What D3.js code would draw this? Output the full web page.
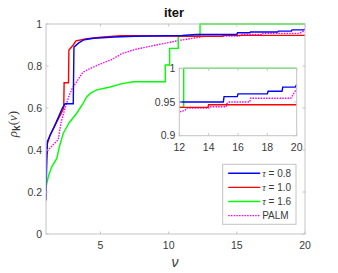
<!DOCTYPE html>
<html lang="en">
  <head>
    <meta charset="UTF-8" />
    <title>iter</title>
    <style>
      body { margin: 0; background: #fff; }
      text { font-family: "Liberation Sans", Arial, sans-serif; }
    </style>
  </head>
  <body>
    <svg id="svg" width="338" height="273"></svg>

    <script src="https://cdn.jsdelivr.net/npm/d3@7"></script>
    <script>
      // performance profile points [nu, rho]
      const tau08 = [[1,0.16],[1.04,0.3],[1.1,0.44],[1.3,0.47],[1.6,0.51],[1.8,0.54],[2.0,0.57],[2.2,0.6],[2.4,0.62],[3.0,0.62],[3.05,0.89],[3.4,0.91],[3.8,0.925],[4.5,0.932],[6,0.938],[7.5,0.942],[11,0.945],[12,0.95],[15,0.95],[15.05,0.958],[15.95,0.958],[16,0.962],[18,0.962],[18.05,0.966],[19,0.966],[19.05,0.972],[19.9,0.972],[20,0.976]];
      const tau10 = [[1,0.33],[1.05,0.38],[1.1,0.43],[1.3,0.47],[1.6,0.51],[2.0,0.56],[2.3,0.6],[2.33,0.72],[2.65,0.72],[2.68,0.876],[3.0,0.9],[3.2,0.92],[4,0.93],[5,0.937],[6.5,0.944],[7.5,0.944],[12,0.942],[13.95,0.942],[14,0.946],[20,0.946]];
      const tau16 = [[1,0.225],[1.2,0.28],[1.42,0.32],[1.79,0.36],[2.0,0.42],[2.27,0.48],[2.7,0.53],[3.25,0.575],[3.7,0.62],[3.99,0.654],[4.3,0.672],[4.72,0.686],[5.7,0.7],[6.5,0.715],[7.4,0.725],[9.75,0.725],[9.75,0.805],[10.07,0.805],[10.07,0.884],[10.7,0.884],[10.7,0.942],[12.3,0.942],[12.3,1],[20,1]];
      const palm = [[1,0.37],[1.15,0.4],[1.9,0.45],[2.1,0.53],[2.4,0.6],[2.7,0.66],[2.9,0.69],[3.3,0.73],[3.7,0.77],[4.3,0.79],[5.0,0.81],[5.8,0.83],[6.6,0.86],[7.6,0.88],[9.1,0.9],[10.1,0.913],[10.8,0.922],[11.6,0.93],[12,0.935],[12.4,0.938],[12.5,0.941],[14,0.941],[14.05,0.943],[15.2,0.943],[15.25,0.948],[15.4,0.95],[16.8,0.95],[16.85,0.9555],[19.6,0.9555],[20,0.97]];

      const seriesNames = ["\u03c4 = 0.8", "\u03c4 = 1.0", "\u03c4 = 1.6", "PALM"];
      const seriesColors = ["#0000ff", "#ff0000", "#00ff00", "#ff00ff"];
      const seriesData = [tau08, tau10, tau16, palm];

      const xTicks = [5, 10, 15, 20];
      const yTicks = [0, 0.2, 0.4, 0.6, 0.8, 1];
      const insetXTicks = [12, 14, 16, 18, 20];
      const insetYTicks = [0.9, 0.95, 1];

      const MAIN = { left: 46, right: 305, top: 24, bottom: 234 };
      const INSET = { left: 179.3, right: 296.7, top: 68.3, bottom: 135.7 };
      const AXIS_COLOR = "#c4c4c4";
      const LABEL_COLOR = "#3a3a3a";

      const svg = d3.select("#svg");
      svg.append("rect").attr("width", 338).attr("height", 273).attr("fill", "#fff");

      function drawAxes(box, xDomain, yDomain, xt, yt, fmtY, name) {
        const x = d3.scaleLinear().domain(xDomain).range([box.left, box.right]);
        const y = d3.scaleLinear().domain(yDomain).range([box.bottom, box.top]);
        const g = svg.append("g");
        g.append("rect")
          .attr("x", box.left).attr("y", box.top)
          .attr("width", box.right - box.left).attr("height", box.bottom - box.top)
          .attr("fill", "#fff");

        svg.append("clipPath").attr("id", "clip-" + name)
          .append("rect")
          .attr("x", box.left).attr("y", box.top - 1)
          .attr("width", box.right - box.left).attr("height", box.bottom - box.top + 2);

        const lines = g.append("g").attr("clip-path", `url(#clip-${name})`);
        const line = d3.line().x((d) => x(d[0])).y((d) => y(d[1]));
        // PALM below the others
        [3, 2, 1, 0].forEach((i) => {
          lines.append("path")
            .attr("d", line(seriesData[i]))
            .attr("fill", "none")
            .attr("stroke", seriesColors[i])
            .attr("stroke-width", 1.4)
            .attr("stroke-dasharray", i === 3 ? "1.5,1.2" : null);
        });

        const frame = g.append("g").attr("stroke", AXIS_COLOR).attr("stroke-width", 1).attr("fill", "none");
        frame.append("rect")
          .attr("x", box.left).attr("y", box.top)
          .attr("width", box.right - box.left).attr("height", box.bottom - box.top);
        xt.forEach((t) => {
          frame.append("line").attr("x1", x(t)).attr("x2", x(t)).attr("y1", box.bottom).attr("y2", box.bottom - 2.5);
          frame.append("line").attr("x1", x(t)).attr("x2", x(t)).attr("y1", box.top).attr("y2", box.top + 2.5);
        });
        yt.forEach((t) => {
          frame.append("line").attr("x1", box.left).attr("x2", box.left + 2.5).attr("y1", y(t)).attr("y2", y(t));
          frame.append("line").attr("x1", box.right).attr("x2", box.right - 2.5).attr("y1", y(t)).attr("y2", y(t));
        });

        g.selectAll(".xl").data(xt).enter().append("text")
          .attr("x", (d) => x(d)).attr("y", box.bottom + 15)
          .attr("text-anchor", "middle").attr("font-size", 10.5).attr("fill", LABEL_COLOR)
          .text((d) => d);
        g.selectAll(".yl").data(yt).enter().append("text")
          .attr("x", box.left - 4).attr("y", (d) => y(d) + 3.5)
          .attr("text-anchor", "end").attr("font-size", 10.5).attr("fill", LABEL_COLOR)
          .text(fmtY);
      }

      drawAxes(MAIN, [1, 20], [0, 1], xTicks, yTicks, (d) => d3.format("~g")(d), "main");
      drawAxes(INSET, [12, 20], [0.9, 1], insetXTicks, insetYTicks, (d) => d3.format("~g")(d), "inset");

      // title
      svg.append("text").attr("x", 174).attr("y", 17)
        .attr("text-anchor", "middle").attr("font-size", 13).attr("font-weight", "bold")
        .attr("fill", "#111").text("iter");

      // axis labels
      svg.append("text").attr("x", 175).attr("y", 267)
        .attr("text-anchor", "middle").attr("font-size", 14)
        .attr("font-family", "'Liberation Serif', serif").attr("font-style", "italic")
        .attr("fill", LABEL_COLOR).text("\u03bd");

      const yl = svg.append("text")
        .attr("transform", "translate(17,124) rotate(-90)")
        .attr("text-anchor", "middle").attr("font-size", 13).attr("fill", LABEL_COLOR);
      yl.append("tspan").attr("font-family", "'Liberation Serif', serif").attr("font-style", "italic").text("\u03c1");
      yl.append("tspan").attr("font-weight", "bold").attr("font-size", 10).attr("dy", 3).text("k");
      yl.append("tspan").attr("font-family", "'Liberation Serif', serif").attr("dy", -3).text("(");
      yl.append("tspan").attr("font-family", "'Liberation Serif', serif").attr("font-style", "italic").text("\u03bd");
      yl.append("tspan").attr("font-family", "'Liberation Serif', serif").text(")");

      // legend
      const LEG = { left: 222.7, top: 164.3, width: 73.3, height: 60, row: 14.1 };
      const legend = svg.append("g");
      legend.append("rect")
        .attr("x", LEG.left).attr("y", LEG.top).attr("width", LEG.width).attr("height", LEG.height)
        .attr("fill", "#fff").attr("stroke", AXIS_COLOR);
      seriesNames.forEach((name, i) => {
        const yy = LEG.top + 9 + i * LEG.row;
        legend.append("line")
          .attr("x1", LEG.left + 5.5).attr("x2", LEG.left + 37.5).attr("y1", yy).attr("y2", yy)
          .attr("stroke", seriesColors[i]).attr("stroke-width", 1.4)
          .attr("stroke-dasharray", i === 3 ? "1.5,1.2" : null);
        const t = legend.append("text")
          .attr("x", LEG.left + 39.5).attr("y", yy + 3.5)
          .attr("font-size", 10).attr("fill", LABEL_COLOR);
        if (i < 3) {
          t.append("tspan").attr("font-family", "'Liberation Serif', serif").attr("font-style", "italic").text("\u03c4");
          t.append("tspan").text(name.slice(1));
        } else {
          t.text(name);
        }
      });
    </script>
  </body>
</html>
